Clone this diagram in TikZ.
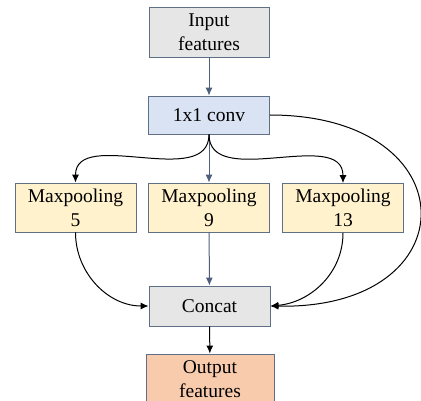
\documentclass[tikz,border=0pt]{standalone}
\usepackage{fontspec}
\setmainfont{Liberation Serif}
\usetikzlibrary{arrows.meta}
\definecolor{edgegray}{HTML}{5F6F86}
\definecolor{flowblue}{HTML}{4E5F7C}
\definecolor{boxgray}{HTML}{E6E6E6}
\definecolor{boxblue}{HTML}{DAE3F3}
\definecolor{boxyellow}{HTML}{FFF2CC}
\definecolor{boxorange}{HTML}{F8CBAD}
\begin{document}
\begin{tikzpicture}[x=1pt,y=-1pt,
  block/.style={draw=edgegray, line width=0.9pt, align=center, inner sep=0pt,
    font=\fontsize{19.5}{24}\selectfont},
  link/.style={line width=1pt, -{Latex[length=8pt,width=7pt]}},
  flow/.style={link, draw=flowblue},
]
\useasboundingbox (0,0) rectangle (421,401);

\node[block, fill=boxgray, minimum width=120pt, minimum height=50pt] (in) at (209,32) {Input\\features};
\node[block, fill=boxblue, minimum width=121pt, minimum height=38pt] (conv) at (209,115) {1x1 conv};
\node[block, fill=boxyellow, minimum width=121pt, minimum height=49pt] (mp5) at (75.5,207.5) {Maxpooling\\5};
\node[block, fill=boxyellow, minimum width=121pt, minimum height=49pt] (mp9) at (209,207.5) {Maxpooling\\9};
\node[block, fill=boxyellow, minimum width=121pt, minimum height=49pt] (mp13) at (343,208) {Maxpooling\\13};
\node[block, fill=boxgray, minimum width=121pt, minimum height=40pt] (cat) at (209.5,306) {Concat};
\node[block, fill=boxorange, minimum width=128pt, minimum height=50pt] (out) at (210,379) {Output\\features};

% main vertical path
\draw[flow] (in) -- (conv);
\draw[flow] (conv) -- (mp9);
\draw[flow] (mp9) -- (cat);
\draw[link] (cat) -- (out);

% branches out of the 1x1 conv
\draw[link] (conv.south) to[out=-90,in=90] (mp5.north);
\draw[link] (conv.south) to[out=-90,in=90] (mp13.north);
\draw[link] (conv.east) .. controls +(200,0) and +(200,4) .. (cat.east);

% pooled features into the concat
\draw[link] (mp5.south) to[out=-90,in=180] (cat.west);
\draw[link] (mp13.south) to[out=-90,in=5] (cat.east);
\end{tikzpicture}
\end{document}
